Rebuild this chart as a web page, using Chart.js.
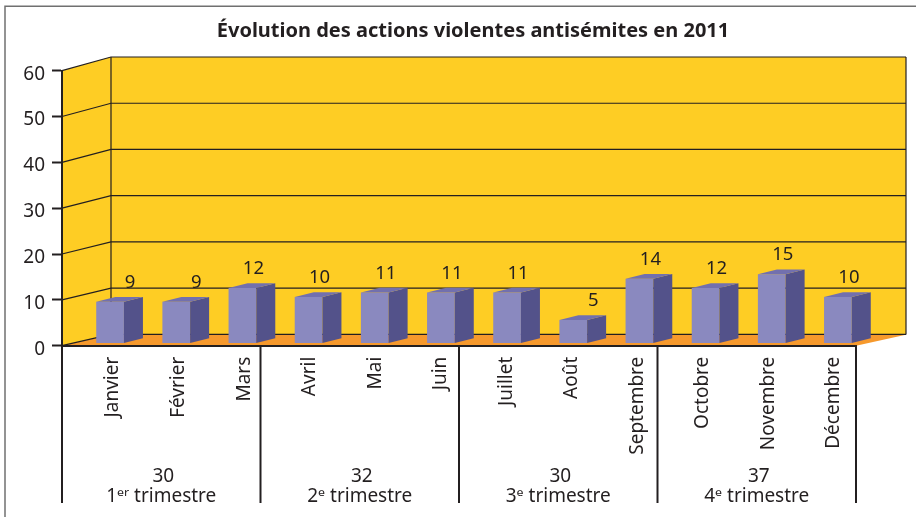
<!DOCTYPE html>
<html><head><meta charset="utf-8">
<script src="https://cdn.jsdelivr.net/npm/chart.js@4"></script>
<style>html,body{margin:0;padding:0;background:#fff}#w{width:916px;height:517px;position:relative}</style>
</head><body><div id="w"><canvas id="c" width="916" height="517"></canvas></div>
<script>
const titleText = "Évolution des actions violentes antisémites en 2011";
const months = ["Janvier","Février","Mars","Avril","Mai","Juin","Juillet","Août","Septembre","Octobre","Novembre","Décembre"];
const actions = [9,9,12,10,11,11,11,5,14,12,15,10];
const quarterTotals = ["30","32","30","37"];
const quarterNames = ["1ᵉʳ trimestre","2ᵉ trimestre","3ᵉ trimestre","4ᵉ trimestre"];
const quarterLastMonth = [2,5,8,11];
const yTicks = [0,10,20,30,40,50,60];

const INK="#231f20", FONT='"Noto Sans"';
const DX=49, BAR_SHIFT=15, DEPTH_X=19, DEPTH_Y=4.8, LABEL_DRIFT=0.65;
const backY=(s,v)=>s.getPixelForValue(v)-11.3-2.4*v/60;

const plugin={id:'scene',
 beforeDraw(ch){
  const c=ch.ctx,y=ch.scales.y,a=ch.chartArea;
  const L=a.left,R=a.right,B=y.getPixelForValue(0),T=y.getPixelForValue(60);
  c.save();
  c.fillStyle='#fff';c.fillRect(0,0,ch.width,ch.height);
  // frame
  c.strokeStyle='#707070';c.lineWidth=1.5;c.beginPath();
  c.moveTo(5,517);c.lineTo(5,6.3);c.lineTo(916,6.3);c.stroke();
  // walls
  c.fillStyle='#fecd24';
  c.beginPath();c.moveTo(L,T);c.lineTo(L+DX,backY(y,60));c.lineTo(R+DX+1,backY(y,60));c.lineTo(R+DX+1,backY(y,0));c.lineTo(L+DX,backY(y,0));c.lineTo(L,B);c.closePath();c.fill();
  // floor
  c.fillStyle='#f6992c';
  c.beginPath();c.moveTo(L,B);c.lineTo(L+DX,backY(y,0));c.lineTo(R+DX+2,backY(y,0));c.lineTo(R,B);c.closePath();c.fill();
  // grid
  c.strokeStyle=INK;c.lineWidth=1.2;
  for(const v of yTicks){
   c.beginPath();c.moveTo(L,y.getPixelForValue(v));c.lineTo(L+DX,backY(y,v));c.lineTo(R+DX+1,backY(y,v));c.stroke();
  }
  c.beginPath();c.moveTo(L+DX,backY(y,60));c.lineTo(L+DX,backY(y,0));c.stroke();
  c.beginPath();c.moveTo(R+DX+1,backY(y,60));c.lineTo(R+DX+1,backY(y,0));c.stroke();
  c.restore();
 },
 beforeDatasetDraw(ch){ch.ctx.save();ch.ctx.translate(BAR_SHIFT,0);},
 afterDatasetDraw(ch,args){
  const c=ch.ctx;
  args.meta.data.forEach((b,i)=>{
   const l=b.x-b.width/2,r=b.x+b.width/2;
   c.fillStyle='#53528a';
   c.beginPath();c.moveTo(r,b.y);c.lineTo(r+DEPTH_X,b.y-DEPTH_Y);c.lineTo(r+DEPTH_X,b.base-DEPTH_Y);c.lineTo(r,b.base);c.closePath();c.fill();
   c.fillStyle='#7270ae';
   c.beginPath();c.moveTo(l,b.y);c.lineTo(l+DEPTH_X,b.y-DEPTH_Y);c.lineTo(r+DEPTH_X,b.y-DEPTH_Y);c.lineTo(r,b.y);c.closePath();c.fill();
   const t=String(actions[i]);
   c.fillStyle=INK;c.font='18.5px '+FONT;c.textAlign='center';c.textBaseline='middle';
   c.fillText(t,b.x+(t.length===1?20:11),b.y-19);
  });
  c.restore();
 },
 afterDraw(ch){
  const c=ch.ctx,x=ch.scales.x,y=ch.scales.y;
  const B=y.getPixelForValue(0),band=x.getPixelForValue(1)-x.getPixelForValue(0);
  c.save();
  c.strokeStyle=INK;c.lineWidth=2;
  c.beginPath();c.moveTo(ch.chartArea.left,B);c.lineTo(ch.chartArea.left,503);c.stroke();
  let prev=ch.chartArea.left;
  quarterLastMonth.forEach((m,q)=>{
   const e=x.getPixelForValue(m)+band/2;
   c.beginPath();c.moveTo(e,B);c.lineTo(e,503);c.stroke();
   const mid=(prev+e)/2;
   c.fillStyle=INK;c.textAlign='center';c.textBaseline='middle';c.font='19px '+FONT;
   c.fillText(quarterTotals[q],mid+2,477);
   c.fillText(quarterNames[q],mid,497);
   prev=e;
  });
  c.restore();
 }
};

new Chart(document.getElementById('c'),{
 type:'bar',
 data:{labels:months,datasets:[{data:actions,backgroundColor:'#8a89bf',borderWidth:0,yAxisID:'yBars',barPercentage:0.423,categoryPercentage:1}]},
 plugins:[plugin],
 options:{
  responsive:false,animation:false,
  layout:{padding:{left:0,top:0,right:-30,bottom:0}},
  plugins:{legend:{display:false},tooltip:{enabled:false},
   title:{display:true,text:titleText,color:INK,font:{family:FONT,size:20,weight:'bold'},padding:{top:19,bottom:27.7}}},
  scales:{
   x:{type:'category',offset:true,
    grid:{display:false},
    border:{display:true,color:INK,width:2},
    afterFit(s){
     s.height=171.3;
     if(!s._driftSet){const orig=s.getPixelForTick;s.getPixelForTick=i=>orig.call(s,i)-i*LABEL_DRIFT;s._driftSet=true;}
    },
    ticks:{color:INK,font:{family:FONT,size:19},minRotation:90,maxRotation:90,autoSkip:false,labelOffset:18,padding:3}},
   y:{type:'linear',min:0,max:60,position:'left',
    afterFit(s){s.width=62;},
    afterBuildTicks(s){s.ticks=yTicks.map(v=>({value:v}));},
    grid:{drawOnChartArea:false,drawTicks:true,tickLength:10,tickWidth:2,tickColor:INK},
    border:{display:true,color:INK,width:2},
    ticks:{color:INK,font:{family:FONT,size:19},padding:7,labelOffset:3.5}},
   yBars:{type:'linear',min:-0.6,max:59.4,position:'right',display:true,
    afterFit(s){s.width=90;},
    grid:{display:false},border:{display:false},ticks:{display:false}}
  }
 }
});
</script></body></html>
